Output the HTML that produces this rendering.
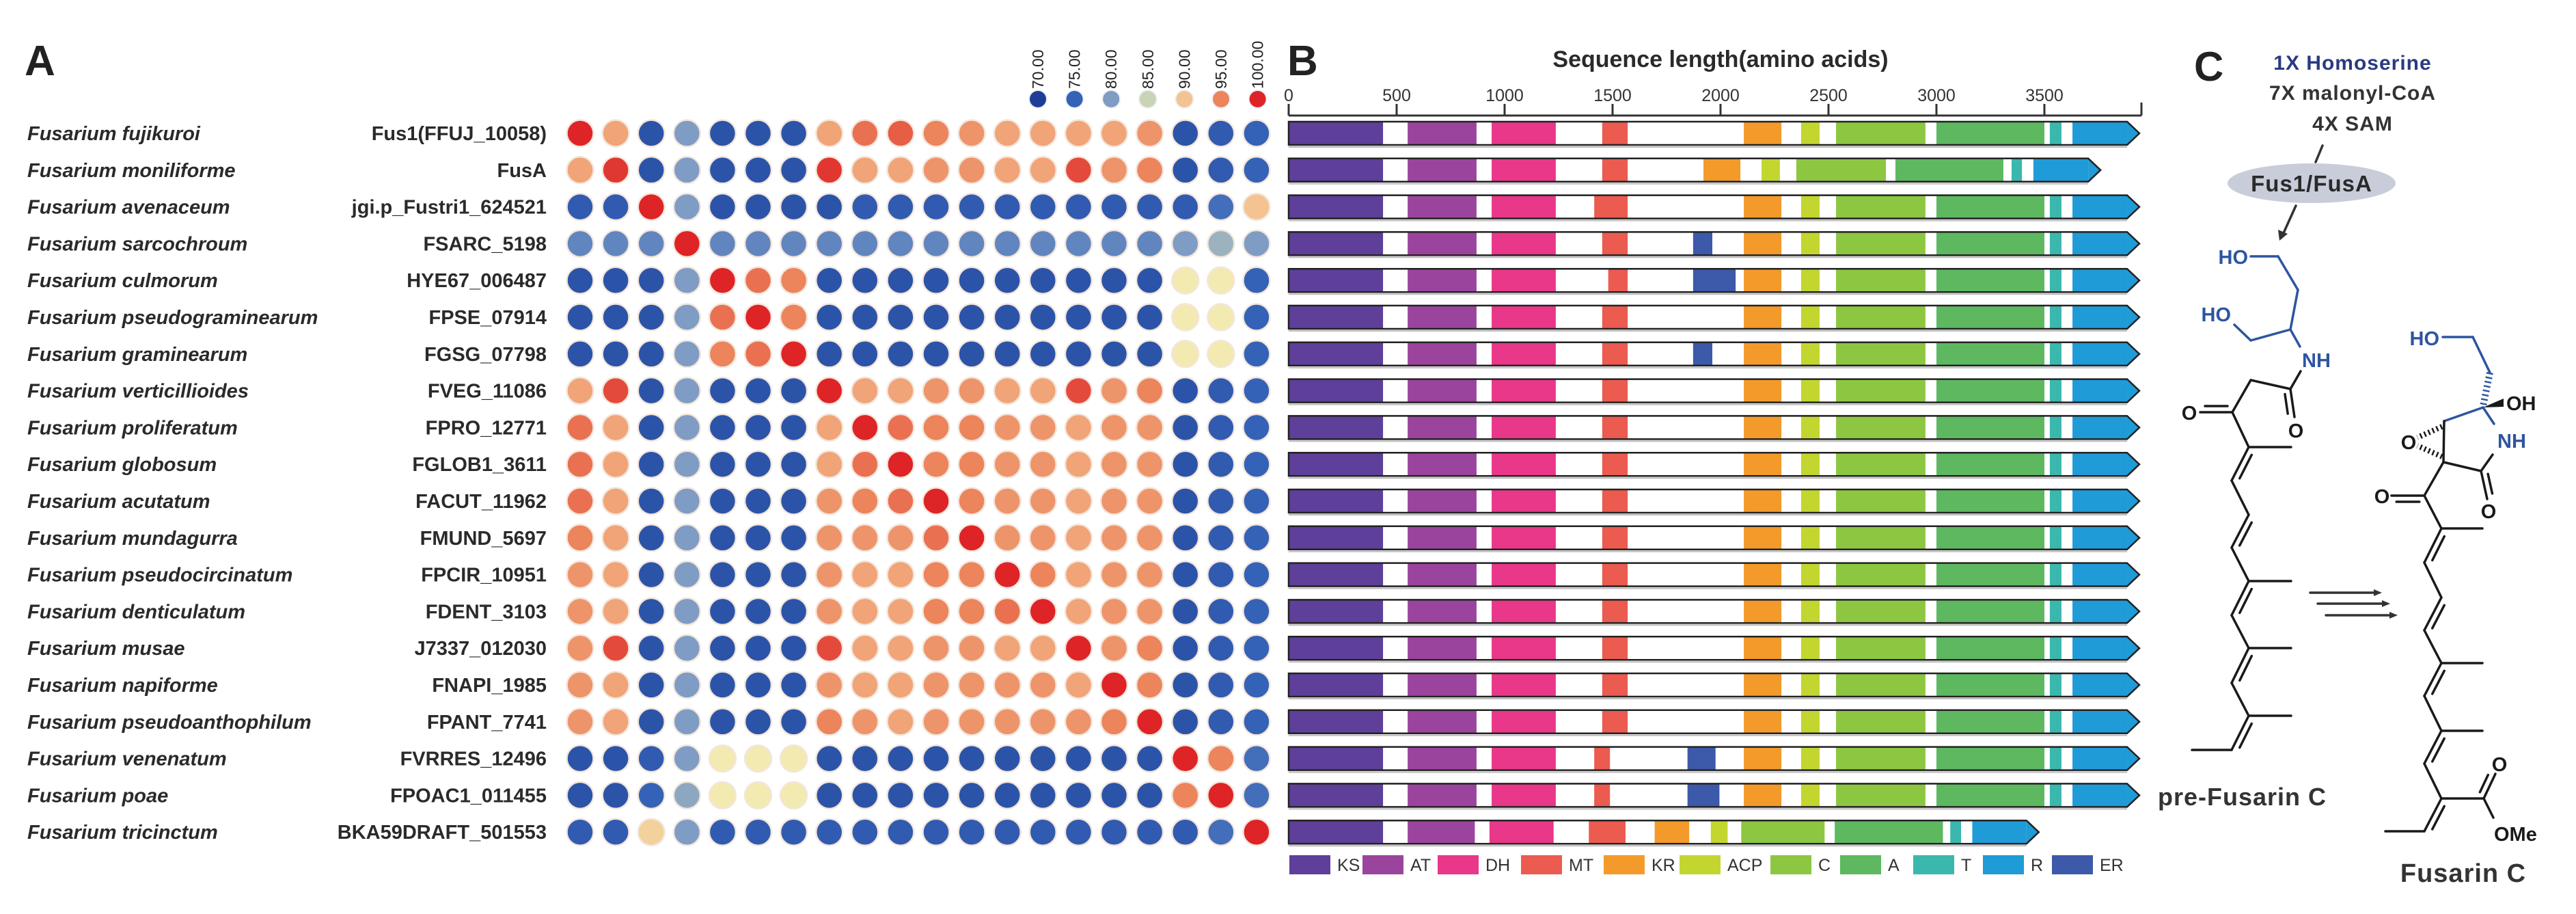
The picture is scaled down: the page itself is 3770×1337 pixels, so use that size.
<!DOCTYPE html>
<html><head><meta charset="utf-8">
<style>
html,body{margin:0;padding:0;background:#fff;}
svg{display:block;}
text{font-family:"Liberation Sans",sans-serif;}
</style></head>
<body>
<svg id="fig" width="3770" height="1337" viewBox="0 0 3770 1337" xmlns="http://www.w3.org/2000/svg">
  <g id="panelA"></g>
  <g id="panelB"></g>
  <g id="panelC"></g>
</svg>
<script>
// ---------- DATA ----------
const species = ["Fusarium fujikuroi","Fusarium moniliforme","Fusarium avenaceum","Fusarium sarcochroum","Fusarium culmorum","Fusarium pseudograminearum","Fusarium graminearum","Fusarium verticillioides","Fusarium proliferatum","Fusarium globosum","Fusarium acutatum","Fusarium mundagurra","Fusarium pseudocircinatum","Fusarium denticulatum","Fusarium musae","Fusarium napiforme","Fusarium pseudoanthophilum","Fusarium venenatum","Fusarium poae","Fusarium tricinctum"];
const geneIds = ["Fus1(FFUJ_10058)","FusA","jgi.p_Fustri1_624521","FSARC_5198","HYE67_006487","FPSE_07914","FGSG_07798","FVEG_11086","FPRO_12771","FGLOB1_3611","FACUT_11962","FMUND_5697","FPCIR_10951","FDENT_3103","J7337_012030","FNAPI_1985","FPANT_7741","FVRRES_12496","FPOAC1_011455","BKA59DRAFT_501553"];
const identity = [
 [100,93,73,80,73,73,73,93,96,97,95,94,93,93,93,93,94,73,74,75],
 [93,99,73,80,73,73,73,99,93,93,94,94,93,93,98,94,95,73,74,75],
 [74,74,100,80,73,73,73,73,74,74,74,74,74,74,74,74,74,74,76,91],
 [78,78,78,100,78,78,78,78,78,78,78,78,78,78,78,78,78,80,82,80],
 [73,73,73,80,100,96,95,73,73,73,73,73,73,73,73,73,73,88,88,75],
 [73,73,73,80,96,100,95,73,73,73,73,73,73,73,73,73,73,88,88,75],
 [73,73,73,80,95,96,100,73,73,73,73,73,73,73,73,73,73,88,88,75],
 [93,98,73,80,73,73,73,100,93,93,94,94,93,93,98,94,95,73,74,75],
 [96,93,73,80,73,73,73,93,100,96,95,95,94,94,93,94,94,73,74,75],
 [96,93,73,80,73,73,73,93,96,100,95,95,94,94,93,94,94,73,74,75],
 [96,93,73,80,73,73,73,94,95,96,100,95,94,94,93,94,94,73,74,75],
 [95,93,73,80,73,73,73,94,94,94,96,100,94,94,93,94,94,73,74,75],
 [94,93,73,80,73,73,73,94,93,93,95,95,100,95,93,94,94,73,74,75],
 [94,93,73,80,73,73,73,94,93,93,95,95,96,100,93,94,94,73,74,75],
 [94,98,73,80,73,73,73,98,93,93,94,94,93,93,100,94,95,73,74,75],
 [94,93,73,80,73,73,73,94,93,93,94,94,94,94,93,100,95,73,74,75],
 [94,93,73,80,73,73,73,95,94,93,94,94,94,94,94,95,100,73,74,75],
 [73,73,74,80,88,88,88,73,73,73,73,73,73,73,73,73,73,100,95,76],
 [73,73,75,81,88,88,88,73,73,73,73,73,73,73,73,73,73,95,100,76],
 [74,74,90,80,74,74,74,74,74,74,74,74,74,74,74,74,74,74,76,100]
];
const legendValues = [70,75,80,85,90,95,100];
const legendLabels = ["70.00","75.00","80.00","85.00","90.00","95.00","100.00"];

const axisTicks = [0,500,1000,1500,2000,2500,3000,3500];
const domainNames = ["KS","AT","DH","MT","KR","ACP","C","A","T","R","ER"];
const proteinLengths = [3940,3760,3940,3940,3940,3940,3940,3940,3940,3940,3940,3940,3940,3940,3940,3940,3940,3940,3940,3474];
const stdDomains = [["KS",0,437],["AT",551,870],["DH",940,1237],["MT",1452,1570],["KR",2108,2282],["ACP",2373,2459],["C",2535,2949],["A",3000,3500],["T",3525,3579],["R",3630,3905]];
const domainsRow2 = [["KS",0,437],["AT",551,870],["DH",940,1237],["MT",1452,1570],["KR",1921,2092],["ACP",2190,2275],["C",2351,2766],["A",2810,3310],["T",3348,3396],["R",3449,3712]];
const domainsRow20 = [["KS",0,437],["AT",551,862],["DH",930,1227],["MT",1390,1560],["KR",1695,1855],["ACP",1955,2033],["C",2096,2482],["A",2529,3030],["T",3064,3114],["R",3166,3425]];
const domainsRow3 = [["KS",0,437],["AT",551,870],["DH",940,1237],["MT",1415,1570],["KR",2108,2282],["ACP",2373,2459],["C",2535,2949],["A",3000,3500],["T",3525,3579],["R",3630,3905]];
const domainsRow4 = stdDomains.concat([["ER",1873,1962]]);
const domainsRow5 = [["KS",0,437],["AT",551,870],["DH",940,1237],["MT",1480,1570],["ER",1873,2070],["KR",2108,2282],["ACP",2373,2459],["C",2535,2949],["A",3000,3500],["T",3525,3579],["R",3630,3905]];
const domainsRow18 = [["KS",0,437],["AT",551,870],["DH",940,1237],["MT",1415,1488],["ER",1847,1977],["KR",2108,2282],["ACP",2373,2459],["C",2535,2949],["A",3000,3500],["T",3525,3579],["R",3630,3905]];
const domainsRow19 = [["KS",0,437],["AT",551,870],["DH",940,1237],["MT",1415,1488],["ER",1847,1995],["KR",2108,2282],["ACP",2373,2459],["C",2535,2949],["A",3000,3500],["T",3525,3579],["R",3630,3905]];
const rowDomains = [stdDomains,domainsRow2,domainsRow3,domainsRow4,domainsRow5,stdDomains,domainsRow4,stdDomains,stdDomains,stdDomains,stdDomains,stdDomains,stdDomains,stdDomains,stdDomains,stdDomains,stdDomains,domainsRow18,domainsRow19,domainsRow20];

// ---------- helpers ----------
const NS="http://www.w3.org/2000/svg";
function mk(tag, attrs, parent){const e=document.createElementNS(NS,tag);for(const k in attrs)e.setAttribute(k,attrs[k]);parent.appendChild(e);return e;}
function txt(s, attrs, parent){const e=mk("text",attrs,parent);e.textContent=s;return e;}

const colorStops=[[70,[30,62,150]],[75,[52,98,182]],[80,[127,156,196]],[85,[200,212,180]],[88,[242,234,176]],[91,[243,196,146]],[95,[236,132,92]],[100,[222,36,38]]];
function colorFor(v){
  if(v<=colorStops[0][0])return "rgb("+colorStops[0][1].join(",")+")";
  for(let i=1;i<colorStops.length;i++){
    if(v<=colorStops[i][0]){const a=colorStops[i-1],b=colorStops[i];const t=(v-a[0])/(b[0]-a[0]);
      return "rgb("+a[1].map((c,j)=>Math.round(c+(b[1][j]-c)*t)).join(",")+")";}
  }
  return "rgb("+colorStops[colorStops.length-1][1].join(",")+")";
}

// ---------- PANEL A ----------
const A=document.getElementById("panelA");
const rowY=i=>195+i*53.8;
const colX=j=>849+j*52.1;
let t;
t=txt("A",{x:36,y:110,"font-size":62,"font-weight":"bold",fill:"#222"},A);



species.forEach((s,i)=>{
  const e=txt(s,{x:40,y:rowY(i)+10,"font-size":29,"font-weight":"bold","font-style":"italic",fill:"#2a2a2a"},A);
  
  
  const g=txt(geneIds[i],{x:800,y:rowY(i)+10,"font-size":29,"font-weight":"bold","text-anchor":"end",fill:"#2a2a2a"},A);
  
  
});
identity.forEach((row,i)=>{
  row.forEach((v,j)=>{
    const c=mk("circle",{cx:colX(j),cy:rowY(i),r:19.5,fill:colorFor(v),stroke:"#f3e6dc","stroke-width":2.5},A);
    
    
  });
});
legendValues.forEach((v,k)=>{
  const x=1519+k*53.6;
  const c=mk("circle",{cx:x,cy:145,r:13,fill:colorFor(v===90?91:v),stroke:"#eef0f6","stroke-width":2},A);
  
  
  const l=txt(legendLabels[k],{x:0,y:0,"font-size":23,fill:"#222",transform:"translate("+(x+8)+",130) rotate(-90)"},A);
  
  
});

// ---------- PANEL B ----------
const B=document.getElementById("panelB");
const X0=1886, PX=158/500;
const xs=aa=>X0+aa*PX;
const domColors={KS:"#5e3f99",AT:"#9b449e",DH:"#e9378a",MT:"#eb5b4f",KR:"#f39a2b",ACP:"#c3d630",C:"#8dc641",A:"#5db860",T:"#3bb8ad",R:"#1f9bd7",ER:"#3c5aa9"};
t=txt("B",{x:1884,y:110,"font-size":62,"font-weight":"bold",fill:"#222"},B);


t=txt("Sequence length(amino acids)",{x:2518,y:98,"font-size":34,"font-weight":"bold","text-anchor":"middle",fill:"#2a2a2a"},B);


const ax=mk("line",{x1:xs(0),y1:169,x2:3134,y2:169,stroke:"#333","stroke-width":3},B);


mk("line",{x1:3134,y1:169,x2:3134,y2:150,stroke:"#333","stroke-width":3},B);
axisTicks.forEach(v=>{
  const tk=mk("line",{x1:xs(v),y1:169,x2:xs(v),y2:152,stroke:"#333","stroke-width":3},B);
  
  
  const tl=txt(String(v),{x:xs(v),y:148,"font-size":25,"text-anchor":"middle",fill:"#333"},B);
  
  
});
const BH=34;
rowDomains.forEach((doms,i)=>{
  const yc=rowY(i), y0=yc-BH/2, y1=yc+BH/2;
  const xe=xs(proteinLengths[i]), xb=xe-18;
  const g=mk("g",{},B);
  
  
  mk("polygon",{points:`${xs(0)},${y0} ${xb},${y0} ${xe},${yc} ${xb},${y1} ${xs(0)},${y1}`,fill:"#fff",stroke:"none"},g);
  doms.forEach(d=>{
    const x1=xs(d[1]), x2=Math.min(xs(d[2]),xb);
    const r=mk("rect",{x:x1,y:y0,width:x2-x1,height:BH,fill:domColors[d[0]]},g);
    
    
    if(d[0]==="R"){mk("polygon",{points:`${xb},${y0} ${xe},${yc} ${xb},${y1}`,fill:domColors.R},g);}
  });
  mk("polygon",{points:`${xs(0)},${y0} ${xb},${y0} ${xe},${yc} ${xb},${y1} ${xs(0)},${y1}`,fill:"none",stroke:"#222","stroke-width":2.5},g);
  mk("line",{x1:xs(0),y1:y1+3,x2:xb,y2:y1+3,stroke:"#bbb","stroke-width":2},g);
});
const legX=[1887,1994,2104,2226,2347,2458,2591,2693,2800,2902,3003];
domainNames.forEach((n,k)=>{
  const r=mk("rect",{x:legX[k],y:1251,width:60,height:28,fill:domColors[n]},B);
  
  
  const l=txt(n,{x:legX[k]+70,y:1274,"font-size":25,fill:"#333"},B);
  
  
});

// ---------- PANEL C ----------
const C=document.getElementById("panelC");
const BLUE="#2d55a0", BLK="#1a1a1a";
function bond(x1,y1,x2,y2,col,parent){return mk("line",{x1,y1,x2,y2,stroke:col||BLK,"stroke-width":3.5,"stroke-linecap":"round"},parent||C);}
function dbl(x1,y1,x2,y2,side){
  bond(x1,y1,x2,y2);
  const dx=x2-x1,dy=y2-y1,L=Math.hypot(dx,dy);const nx=-dy/L*9*side,ny=dx/L*9*side;
  bond(x1+dx*0.15+nx,y1+dy*0.15+ny,x2-dx*0.15+nx,y2-dy*0.15+ny);
}
t=txt("C",{x:3211,y:118,"font-size":60,"font-weight":"bold",fill:"#222"},C);


t=txt("1X Homoserine",{x:3443,y:102,"font-size":30,"font-weight":"bold","text-anchor":"middle",fill:"#2b3a80","letter-spacing":"1"},C);


t=txt("7X malonyl-CoA",{x:3443,y:146,"font-size":30,"font-weight":"bold","text-anchor":"middle",fill:"#333","letter-spacing":"1"},C);


t=txt("4X SAM",{x:3443,y:191,"font-size":30,"font-weight":"bold","text-anchor":"middle",fill:"#333","letter-spacing":"1"},C);


bond(3399,213,3389,237,"#333");
const el=mk("ellipse",{cx:3383,cy:268,rx:123,ry:29,fill:"#c9cdd9"},C);


t=txt("Fus1/FusA",{x:3383,y:280,"font-size":33,"font-weight":"bold","text-anchor":"middle",fill:"#2a2a2a","letter-spacing":"1"},C);


bond(3360,301,3341,343,"#333");
mk("polygon",{points:"3336,352 3334,336 3348,342",fill:"#333"},C);

// pre-fusarin C (blue part)
[[3294,375,3334,375],[3334,375,3363,424],[3363,424,3352,482],[3352,482,3294,498],[3294,498,3270,475],[3352,482,3366,507]].forEach(b=>bond(b[0],b[1],b[2],b[3],BLUE));
function lab(s,x,y,col,anchor,size){const e=txt(s,{x,y,"font-size":size||29,"font-weight":"bold",fill:col,"text-anchor":anchor||"start"},C);return e;}
lab("HO",3290,386,BLUE,"end");
lab("HO",3265,470,BLUE,"end");
lab("NH",3369,537,BLUE);
bond(3367,543,3352,569);
dbl(3352,569,3358,610,1);
lab("O",3360,640,BLK,"middle");
bond(3352,569,3294,556);
bond(3294,556,3267,603);
dbl(3267,603,3220,603,1);
lab("O",3204,614,BLK,"middle");
bond(3267,603,3291,654);
[[3291,654,3266,703,1],[3291,753,3266,801,1],[3291,850,3266,900,1],[3291,948,3266,999,1],[3291,1047,3266,1097,1]].forEach(b=>dbl(b[0],b[1],b[2],b[3],-1));
[[3266,703,3291,753],[3266,801,3291,850],[3266,900,3291,948],[3266,999,3291,1047],[3266,1097,3208,1097],[3291,654,3353,654],[3291,850,3353,850],[3291,948,3353,948],[3291,1047,3353,1047]].forEach(b=>bond(b[0],b[1],b[2],b[3]));
t=txt("pre-Fusarin C",{x:3158,y:1178,"font-size":36,"font-weight":"bold",fill:"#333","letter-spacing":"1"},C);



// arrows
[[3381,3486,867],[3392,3498,883],[3404,3509,900]].forEach(a=>{
  bond(a[0],a[2],a[1]-6,a[2],"#333");
  const p=mk("polygon",{points:`${a[1]},${a[2]} ${a[1]-12},${a[2]-5} ${a[1]-12},${a[2]+5}`,fill:"#333"},C);
  
  
});

// Fusarin C
lab("HO",3570,505,BLUE,"end");
bond(3575,493,3619,493,BLUE);
bond(3619,493,3644,545,BLUE);
mk("line",{x1:3644,y1:545,x2:3634,y2:594,stroke:BLUE,"stroke-width":10,"stroke-dasharray":"2.5 4"},C);
mk("polygon",{points:"3634,596 3664,583 3664,595",fill:BLK},C);
lab("OH",3668,600,BLK);
bond(3634,596,3577,616,BLUE);
bond(3634,596,3650,620,BLUE);
lab("NH",3655,655,BLUE);
bond(3577,616,3576,676);
mk("line",{x1:3574,y1:624,x2:3538,y2:640,stroke:BLK,"stroke-width":8,"stroke-dasharray":"2.5 4"},C);
mk("line",{x1:3574,y1:668,x2:3538,y2:652,stroke:BLK,"stroke-width":8,"stroke-dasharray":"2.5 4"},C);
lab("O",3525,657,BLK,"middle");
bond(3576,676,3631,689);
bond(3631,689,3648,665);
dbl(3631,689,3640,730,-1);
lab("O",3642,758,BLK,"middle");
bond(3576,676,3548,725);
dbl(3548,725,3500,725,-1);
lab("O",3486,736,BLK,"middle");
bond(3548,725,3573,773);
bond(3573,773,3633,773);
[[3573,773,3548,823],[3573,874,3548,922],[3573,970,3548,1018],[3573,1069,3548,1117],[3573,1168,3548,1216]].forEach(b=>dbl(b[0],b[1],b[2],b[3],-1));
[[3548,823,3573,874],[3548,922,3573,970],[3573,970,3633,970],[3548,1018,3573,1069],[3573,1069,3633,1069],[3548,1117,3573,1168],[3573,1168,3635,1168],[3635,1168,3649,1196],[3548,1216,3491,1216]].forEach(b=>bond(b[0],b[1],b[2],b[3]));
dbl(3635,1168,3652,1132,-1);
lab("O",3658,1128,BLK,"middle");
lab("OMe",3650,1230,BLK);
t=txt("Fusarin C",{x:3605,y:1290,"font-size":38,"font-weight":"bold","text-anchor":"middle",fill:"#333","letter-spacing":"1"},C);


</script>
</body></html>
